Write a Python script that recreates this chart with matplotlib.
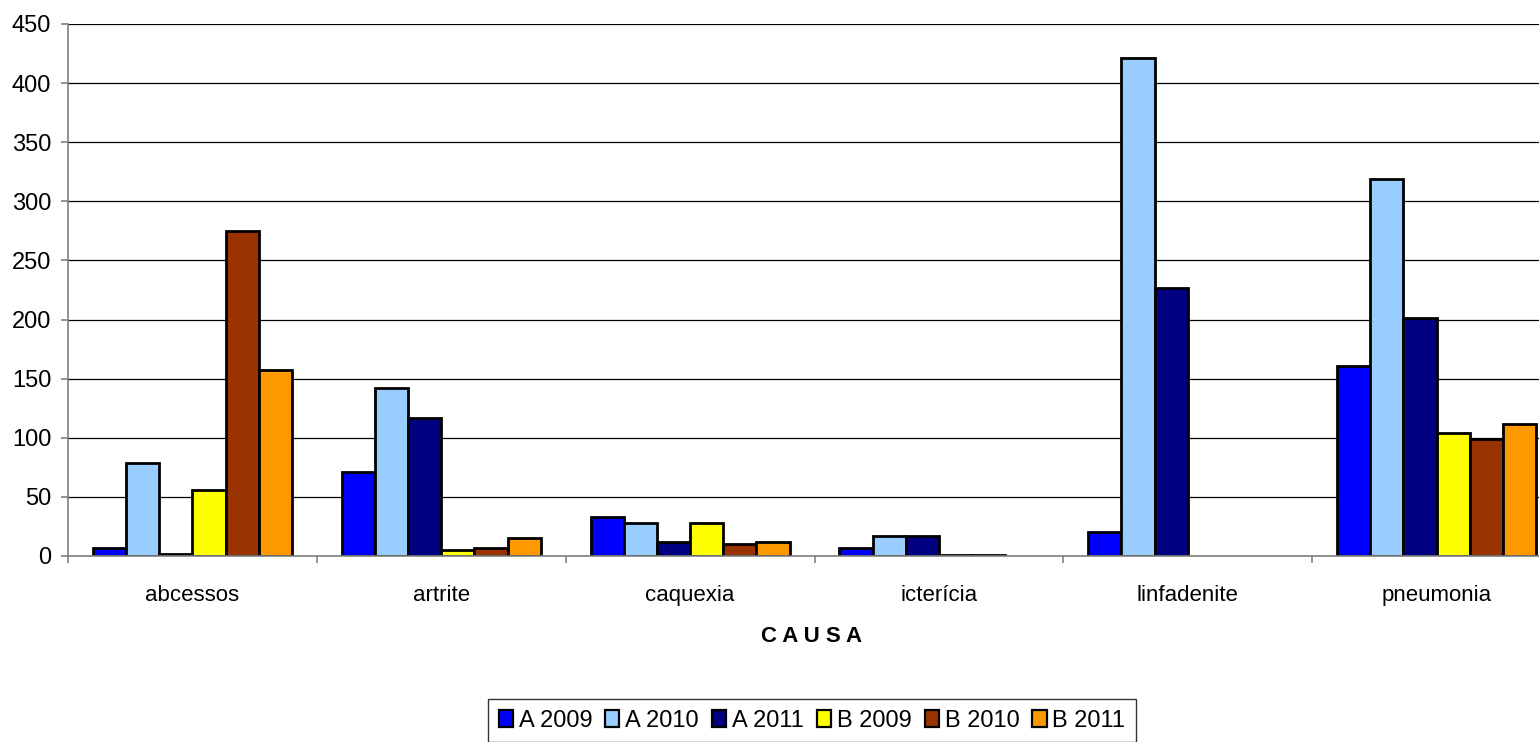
import matplotlib
matplotlib.use("Agg")
import matplotlib.pyplot as plt
import numpy as np

plt.rcParams['font.family'] = ['Liberation Sans', 'DejaVu Sans']

categories = ["abcessos", "artrite", "caquexia", "icterícia", "linfadenite", "pneumonia"]
series_names = ["A 2009", "A 2010", "A 2011", "B 2009", "B 2010", "B 2011"]
a_2009 = [7, 71, 33, 7, 20, 161]
a_2010 = [79, 142, 28, 17, 421, 319]
a_2011 = [2, 117, 12, 17, 227, 201]
b_2009 = [56, 5, 28, 1, np.nan, 104]
b_2010 = [275, 7, 10, 1, np.nan, 99]
b_2011 = [157, 15, 12, np.nan, np.nan, 112]
colors = ["#0000FF", "#99CCFF", "#000080", "#FFFF00", "#993300", "#FF9900"]
y_ticks = [0, 50, 100, 150, 200, 250, 300, 350, 400, 450]

series = [a_2009, a_2010, a_2011, b_2009, b_2010, b_2011]

W, H = 1539, 742
fig = plt.figure(figsize=(W / 100, H / 100), dpi=100)
left, right, bottom, top = 68, 1561, 556, 24
ax = fig.add_axes([left / W, 1 - bottom / H, (right - left) / W, (bottom - top) / H])

x = np.arange(len(categories))
n = len(series)
bw = 0.8 / n
for i, (vals, name, c) in enumerate(zip(series, series_names, colors)):
    ax.bar(x - 0.4 + bw * (i + 0.5), vals, width=bw, color=c, edgecolor="black",
           linewidth=2.0, label=name, zorder=3)

ax.set_xlim(-0.5, len(categories) - 0.5)
ax.set_ylim(0, 450)
ax.set_yticks(y_ticks)
ax.yaxis.grid(True, color="black", linewidth=0.9, zorder=0)
ax.set_axisbelow(True)
for s in ["top", "right"]:
    ax.spines[s].set_visible(False)
for s in ["left", "bottom"]:
    ax.spines[s].set_color("#808080")
    ax.spines[s].set_linewidth(1.2)
    ax.spines[s].set_zorder(4)

ax.set_xticks(x)
ax.set_xticklabels(categories, fontsize=16)
ax.tick_params(axis="x", length=0, pad=21)
ax.set_xticks(np.arange(-0.5, len(categories) + 0.5, 1), minor=True)
ax.tick_params(axis="x", which="minor", length=5, color="#808080", width=1.2)
ax.tick_params(axis="y", labelsize=17, length=5, color="#808080", width=1.2, pad=7)

fig.text(812 / W, 1 - 637 / H, "C A U S A", ha="center", va="center",
         fontsize=16, fontweight="bold")

leg = fig.legend(loc="upper center", bbox_to_anchor=(812 / W, 1 - 699 / H), ncol=6,
                 fontsize=17, frameon=True, fancybox=False, handlelength=0.6,
                 handleheight=0.7, handletextpad=0.25, columnspacing=0.55,
                 borderpad=0.45, borderaxespad=0)
leg.get_frame().set_edgecolor("black")
leg.get_frame().set_linewidth(1.0)
for h in leg.legend_handles:
    h.set_linewidth(1.6)

fig.savefig("out.png", dpi=100)
